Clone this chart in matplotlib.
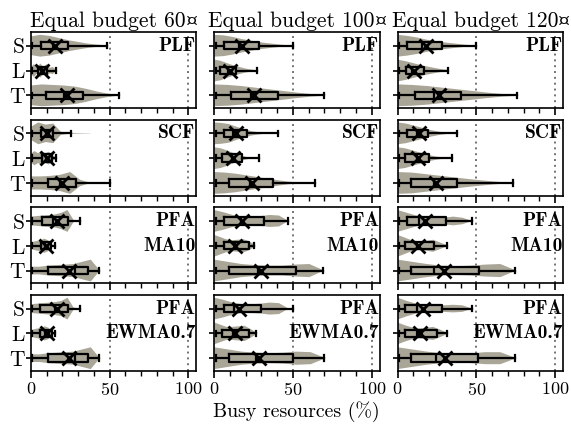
import matplotlib.pyplot as plt
import numpy as np

plt.rcParams["font.family"] = ["cmr10", "DejaVu Serif"]
plt.rcParams["axes.formatter.use_mathtext"] = True
plt.rcParams["mathtext.fontset"] = "cm"

budgets = ["60", "100", "120"]
currency = "\u00a4"
categories = ["S", "L", "T"]
policy_labels = [["PLF"], ["SCF"], ["PFA", "MA10"], ["PFA", "EWMA0.7"]]

# box statistics: [policy row][budget column] -> (S, L, T), busy resources in %
q1 = [
    [[6.2, 4.7, 9.4], [5.9, 3.4, 10.8], [6.0, 5.0, 10.9]],
    [[6.2, 6.8, 10.6], [5.9, 4.9, 9.5], [6.0, 4.7, 8.5]],
    [[7.4, 6.2, 10.6], [6.0, 5.9, 9.5], [6.0, 4.7, 8.5]],
    [[5.8, 5.8, 10.9], [6.0, 4.9, 9.5], [4.7, 4.7, 8.5]],
]
q3 = [
    [[23.8, 10.0, 33.3], [28.7, 14.0, 40.7], [28.0, 17.0, 40.5]],
    [[14.2, 13.2, 28.7], [20.7, 17.5, 37.5], [19.4, 20.0, 37.5]],
    [[23.8, 12.5, 36.0], [31.5, 22.0, 52.0], [30.4, 23.3, 51.5]],
    [[23.7, 13.5, 36.0], [29.4, 22.0, 50.0], [28.3, 24.9, 51.0]],
]
medians = [
    [[14.2, 6.8, 21.0], [16.0, 8.7, 23.4], [15.5, 9.0, 23.0]],
    [[9.4, 9.4, 18.5], [12.0, 11.2, 22.8], [12.3, 12.0, 23.4]],
    [[14.2, 8.9, 28.0], [16.8, 13.3, 28.0], [13.3, 12.0, 23.4]],
    [[15.1, 9.3, 27.9], [12.6, 12.1, 26.5], [12.5, 12.0, 24.5]],
]
means = [
    [[15.3, 7.2, 22.7], [17.5, 9.7, 25.5], [17.7, 10.7, 26.3]],
    [[10.0, 10.0, 20.0], [13.7, 12.2, 23.8], [13.5, 12.9, 24.5]],
    [[16.4, 9.4, 24.2], [17.5, 13.3, 29.5], [17.5, 13.0, 29.5]],
    [[16.3, 10.5, 24.4], [16.0, 13.3, 28.7], [16.0, 14.5, 30.0]],
]
whis_lo = 1.0
whis_hi = [
    [[48.6, 15.7, 56.0], [50.0, 27.0, 70.0], [50.0, 32.0, 76.0]],
    [[25.3, 15.7, 50.0], [40.5, 28.7, 64.0], [37.5, 34.3, 73.0]],
    [[31.2, 15.3, 43.5], [47.0, 25.3, 69.0], [47.0, 31.5, 74.5]],
    [[31.4, 15.6, 43.5], [50.0, 26.8, 70.0], [47.0, 31.5, 74.5]],
]

# violin outlines: where each density ends and its relative width along 0..end
vio_end = [
    [[48, 16, 56], [48, 27, 70], [50, 32, 76]],
    [[38, 16, 50], [33, 25, 54], [37, 34, 73]],
    [[31, 15, 43.5], [47, 26, 69], [47, 31.5, 74.5]],
    [[31, 15.6, 43.5], [47, 27, 70], [47, 31.5, 74.5]],
]
vio_shape = [
    [
        [[0.85, 1.0, 0.9, 0.7, 0.5, 0.35, 0.2, 0.1, 0.03],
         [0.5, 0.9, 0.4, 1.0, 0.5, 0.9, 0.4, 0.5, 0.05],
         [0.9, 1.0, 0.95, 0.9, 0.8, 0.6, 0.35, 0.15, 0.03]],
        [[1.0, 0.95, 0.8, 0.6, 0.45, 0.3, 0.2, 0.1, 0.02],
         [1.0, 0.9, 0.7, 0.5, 0.35, 0.2, 0.1, 0.03],
         [1.0, 0.95, 0.85, 0.7, 0.55, 0.4, 0.25, 0.12, 0.03]],
        [[1.0, 0.9, 0.75, 0.55, 0.4, 0.28, 0.18, 0.08, 0.02],
         [1.0, 0.85, 0.65, 0.45, 0.3, 0.15, 0.05],
         [1.0, 0.95, 0.85, 0.7, 0.55, 0.4, 0.25, 0.12, 0.03]],
    ],
    [
        [[0.6, 1.0, 0.8, 0.9, 0.15, 0.05, 0.03, 0.02, 0.01],
         [0.6, 1.0, 0.7, 1.0, 0.7, 0.9, 0.4, 0.1],
         [0.6, 0.6, 0.65, 0.75, 1.0, 0.3, 0.02, 0.01, 0.0]],
        [[1.0, 0.95, 0.85, 0.6, 0.4, 0.2, 0.1, 0.02],
         [1.0, 0.9, 0.7, 0.45, 0.25, 0.1, 0.02],
         [1.0, 0.95, 0.85, 0.7, 0.55, 0.4, 0.25, 0.12, 0.03]],
        [[1.0, 0.9, 0.7, 0.5, 0.3, 0.15, 0.05, 0.01],
         [1.0, 0.9, 0.7, 0.5, 0.3, 0.15, 0.05, 0.01],
         [1.0, 0.95, 0.8, 0.65, 0.5, 0.35, 0.22, 0.1, 0.02]],
    ],
    [
        [[0.4, 0.45, 0.5, 0.55, 0.6, 0.75, 1.0, 0.1, 0.0],
         [0.4, 0.6, 0.7, 0.8, 1.0, 0.8, 0.3, 0.05],
         [0.35, 0.35, 0.45, 0.5, 0.55, 0.6, 0.8, 1.0, 0.05]],
        [[1.0, 0.8, 0.55, 0.4, 0.4, 0.45, 0.55, 0.5, 0.02],
         [1.0, 0.8, 0.6, 0.5, 0.55, 0.6, 0.4, 0.05],
         [1.0, 0.8, 0.6, 0.5, 0.45, 0.45, 0.55, 0.6, 0.05]],
        [[1.0, 0.75, 0.5, 0.35, 0.3, 0.3, 0.4, 0.3, 0.02],
         [1.0, 0.75, 0.5, 0.4, 0.45, 0.55, 0.3, 0.05],
         [1.0, 0.8, 0.6, 0.45, 0.4, 0.45, 0.55, 0.6, 0.05]],
    ],
    [
        [[0.4, 0.45, 0.5, 0.55, 0.6, 0.7, 1.0, 0.1, 0.0],
         [0.4, 0.6, 0.7, 0.8, 1.0, 0.8, 0.3, 0.05],
         [0.35, 0.35, 0.45, 0.5, 0.55, 0.6, 0.8, 1.0, 0.05]],
        [[1.0, 0.8, 0.55, 0.4, 0.4, 0.45, 0.55, 0.5, 0.02],
         [1.0, 0.8, 0.6, 0.6, 0.65, 0.7, 0.4, 0.05],
         [1.0, 0.8, 0.6, 0.5, 0.45, 0.5, 0.6, 0.55, 0.05]],
        [[1.0, 0.7, 0.45, 0.35, 0.3, 0.3, 0.35, 0.3, 0.02],
         [1.0, 0.75, 0.55, 0.45, 0.5, 0.6, 0.35, 0.05],
         [1.0, 0.8, 0.6, 0.45, 0.4, 0.45, 0.55, 0.55, 0.05]],
    ],
]
# the L violins of the 60 budget are thinner than the rest
vio_scale = [1.0, 0.65, 1.0]

VIOLIN_COLOR = "#a9a697"
pos = [1, 2, 3]

fig, axes = plt.subplots(4, 3, figsize=(5.71, 4.28), dpi=100, sharex=True, sharey=True)
fig.subplots_adjust(left=0.054, right=0.986, top=0.925, bottom=0.133,
                    wspace=0.109, hspace=0.151)

for r in range(4):
    for c in range(3):
        ax = axes[r, c]
        vstats = []
        bstats = []
        for k in range(3):
            shape = np.array(vio_shape[r][c][k])
            coords = np.linspace(0, vio_end[r][c][k], len(shape))
            vstats.append(dict(coords=coords, vals=shape,
                               mean=means[r][c][k], median=medians[r][c][k],
                               min=0.0, max=vio_end[r][c][k]))
            bstats.append(dict(med=medians[r][c][k], q1=q1[r][c][k], q3=q3[r][c][k],
                               whislo=whis_lo, whishi=whis_hi[r][c][k],
                               mean=means[r][c][k], fliers=[]))
        widths = [0.88 * (vio_scale[k] if c == 0 else 1.0) for k in range(3)]
        parts = ax.violin(vstats, positions=pos, orientation="horizontal",
                          widths=widths, showextrema=False)
        for body in parts["bodies"]:
            body.set_facecolor(VIOLIN_COLOR)
            body.set_edgecolor("none")
            body.set_alpha(1.0)

        for xv in (50, 100):
            ax.axvline(xv, color="0.45", ls=(0, (1, 2)), lw=1.4, zorder=0.5)

        line = dict(color="black", lw=1.6)
        ax.bxp(bstats, positions=pos, widths=0.3, capwidths=0.22,
               orientation="horizontal", showmeans=True, showfliers=False,
               boxprops=line, whiskerprops=line, capprops=line,
               medianprops=dict(color="black", lw=1.6),
               meanprops=dict(marker="x", markeredgecolor="black",
                              markersize=10, markeredgewidth=2))

        for i, lab in enumerate(policy_labels[r]):
            ax.text(104.6, pos[i], lab, ha="right", va="center",
                    family="cmb10", fontsize=14)

        ax.set_xlim(0, 105)
        ax.set_ylim(3.52, 0.45)
        ax.set_xticks([0, 50, 100])
        ax.set_xticks(range(10, 100, 10), minor=True)
        ax.set_yticks(pos)
        ax.set_yticklabels(categories, fontsize=15.5)
        ax.tick_params(axis="x", which="major", direction="out", length=5,
                       width=1.2, labelsize=13, pad=2.5)
        ax.tick_params(axis="x", which="minor", direction="out", length=3.5,
                       width=1.0)
        ax.tick_params(axis="y", direction="out", length=3.5, width=1.2, pad=1)
        for sp in ax.spines.values():
            sp.set_linewidth(1.2)
        if r == 0:
            t = ax.set_title(f"Equal budget {budgets[c]}", fontsize=15.5, pad=4, x=0.467)
            ax.annotate(currency, xy=(1, 0), xycoords=t, ha="left", va="bottom",
                        family="DejaVu Serif", fontsize=13.5)

fig.text(0.519, 0.038, "Busy resources (%)", ha="center", va="center", fontsize=14.3)

fig.savefig("out.png", dpi=100)
